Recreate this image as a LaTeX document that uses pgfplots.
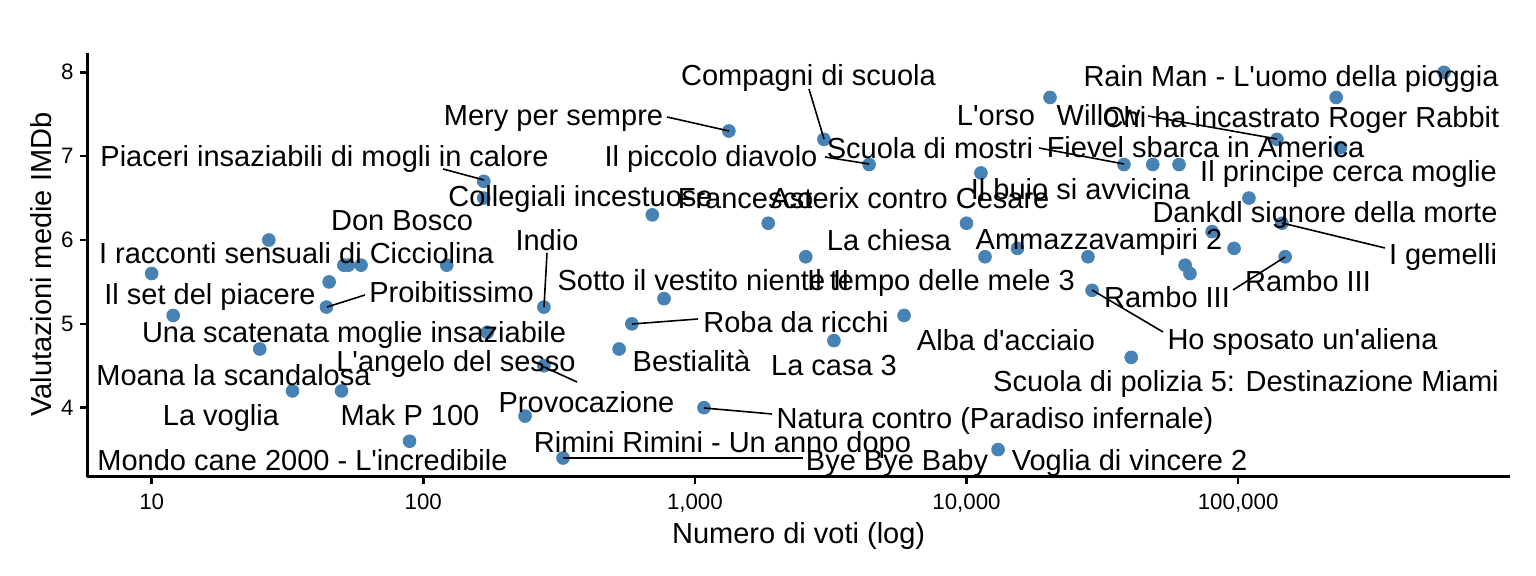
\documentclass[border=0pt]{standalone}
\usepackage{pgfplots}
\pgfplotsset{compat=1.18}
\usepackage{fontspec}
\setmainfont{Liberation Sans}[Ligatures=TeXOff]
\definecolor{steelblue}{RGB}{70,130,180}
\begin{document}
\begin{tikzpicture}[px/.style={x=0.5pt,y=-0.5pt,shift={(-87.3,-476.7)}},
  lbl/.style={font=\fontsize{14.5}{17}\selectfont, anchor=base, inner sep=0pt, text=black, yshift=-1.4pt}]
\useasboundingbox (-43.65pt,-49.65pt) rectangle (724.35pt,238.35pt);
\begin{axis}[
  scale only axis,
  width=711.35pt, height=212pt,
  xmode=log,
  xmin=5.794, xmax=1002500,
  ymin=3.177, ymax=8.234,
  axis lines=left,
  axis line style={-, line width=1.3pt, black},
  tick style={line width=1.3pt, black},
  tick align=outside,
  major tick length=3.65pt,
  minor tick num=0,
  xtick={10,100,1000,10000,100000},
  xticklabels={10,100,{1,000},{10,000},{100,000}},
  ytick={4,5,6,7,8},
  yticklabels={4,5,6,7,8},
  xminorticks=false,
  xticklabel style={font=\fontsize{11.15}{13}\selectfont, inner sep=0pt, anchor=base, yshift=-12.65pt},
  yticklabel style={font=\fontsize{11.15}{13}\selectfont, inner sep=0pt, anchor=east, xshift=-3pt},
  every axis x label/.style={at={(axis description cs:0.5,-0.1564)}, anchor=base, inner sep=0pt, font=\fontsize{14.5}{17}\selectfont},
  every axis y label/.style={at={(axis description cs:-0.0255,0.5)}, rotate=90, anchor=base, inner sep=0pt, font=\fontsize{14.5}{17}\selectfont},
  xlabel={Numero di voti (log)},
  ylabel={Valutazioni medie IMDb},
  clip=false,
]
\addplot[only marks, mark=*, mark size=3.2pt, color=steelblue, mark options={draw=steelblue, fill=steelblue}] table[x=x, y=y] {
x y
167 6.7
167 6.5
27 6.0
10 5.6
51 5.7
53 5.7
59 5.7
122 5.7
45 5.5
44 5.2
12 5.1
278 5.2
172 4.9
25 4.7
278 4.5
33 4.2
50 4.2
237 3.9
89 3.6
327 3.4
2560 5.8
11700 5.8
15400 5.9
28000 5.8
770 5.3
586 5.0
5890 5.1
3250 4.8
526 4.7
29000 5.4
1080 4.0
13070 3.5
96600 5.9
63800 5.7
66500 5.6
149000 5.8
40400 4.6
573000 8.0
229600 7.7
139000 7.2
237800 7.1
38000 6.9
48500 6.9
60600 6.9
109600 6.5
145000 6.2
80200 6.1
1334 7.3
2986 7.2
4380 6.9
20300 7.7
11300 6.8
697 6.3
1862 6.2
10000 6.2
};
\end{axis}
\begin{scope}[px]
\draw[line width=0.8pt] (443,169) -- (484,180);
\draw[line width=0.8pt] (365,295) -- (327,307);
\draw[line width=0.8pt] (547,253) -- (544,307);
\draw[line width=0.8pt] (577,382) -- (544,367);
\draw[line width=0.8pt] (563,458) -- (803,458);
\draw[line width=0.8pt] (698,319) -- (632,324);
\draw[line width=0.8pt] (772,414) -- (704,408);
\draw[line width=0.8pt] (1163,332) -- (1092,290);
\draw[line width=0.8pt] (1233,290) -- (1285,257);
\draw[line width=0.8pt] (1385,248) -- (1282,223);
\draw[line width=0.8pt] (667,117) -- (729,131);
\draw[line width=0.8pt] (809,89) -- (824,139);
\draw[line width=0.8pt] (825,157) -- (869,164);
\draw[line width=0.8pt] (1039,148) -- (1124,164);
\draw[line width=0.8pt] (1148,116) -- (1277,139);
\node[lbl] at (808.5,83) {Compagni di scuola};
\node[lbl] at (1291,84) {Rain Man - L'uomo della pioggia};
\node[lbl] at (553.5,123) {Mery per sempre};
\node[lbl] at (996,123) {L'orso};
\node[lbl] at (1098.5,123) {Willow};
\node[lbl] at (1301,125) {Chi ha incastrato Roger Rabbit};
\node[lbl] at (324.5,164) {Piaceri insaziabili di mogli in calore};
\node[lbl] at (711,164) {Il piccolo diavolo};
\node[lbl] at (930,156) {Scuola di mostri};
\node[lbl] at (1205.5,155) {Fievel sbarca in America};
\node[lbl] at (1348.5,179) {Il principe cerca moglie};
\node[lbl] at (1080.5,197) {Il buio si avvicina};
\node[lbl] at (580.5,204) {Collegiali incestuose};
\node[lbl] at (745.5,206) {Francesco};
\node[lbl] at (910,206) {Asterix contro Cesare};
\node[lbl] at (1325,220) {Dankdl signore della morte};
\node[lbl] at (402,228) {Don Bosco};
\node[lbl] at (547,248) {Indio};
\node[lbl] at (889,248) {La chiesa};
\node[lbl] at (1099,247) {Ammazzavampiri 2};
\node[lbl] at (296.5,261) {I racconti sensuali di Cicciolina};
\node[lbl] at (1443,262) {I gemelli};
\node[lbl] at (703.5,288) {Sotto il vestito niente II};
\node[lbl] at (941,288) {Il tempo delle mele 3};
\node[lbl] at (1308,289) {Rambo III};
\node[lbl] at (210,302) {Il set del piacere};
\node[lbl] at (451.5,300) {Proibitissimo};
\node[lbl] at (1167,305) {Rambo III};
\node[lbl] at (796,330) {Roba da ricchi};
\node[lbl] at (354,340) {Una scatenata moglie insaziabile};
\node[lbl] at (1006,348) {Alba d'acciaio};
\node[lbl] at (1302.5,347) {Ho sposato un'aliena};
\node[lbl] at (456,369) {L'angelo del sesso};
\node[lbl] at (691.5,369) {Bestialità};
\node[lbl] at (834,373) {La casa 3};
\node[lbl] at (233.5,383) {Moana la scandalosa};
\node[lbl] at (1246,389) {Scuola di polizia 5: Destinazione Miami};
\node[lbl] at (586.5,410) {Provocazione};
\node[lbl] at (221,423) {La voglia};
\node[lbl] at (410,423) {Mak P 100};
\node[lbl] at (995,426) {Natura contro (Paradiso infernale)};
\node[lbl] at (722.5,450) {Rimini Rimini - Un anno dopo};
\node[lbl] at (302.5,468) {Mondo cane 2000 - L'incredibile};
\node[lbl] at (897,468) {Bye Bye Baby};
\node[lbl] at (1129.5,468) {Voglia di vincere 2};
\end{scope}
\end{tikzpicture}
\end{document}
